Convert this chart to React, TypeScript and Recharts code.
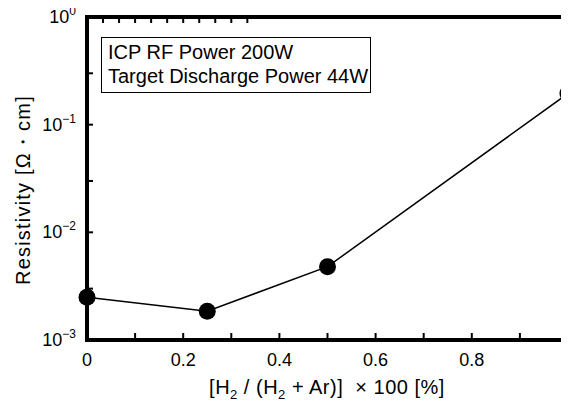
import { Line, LineChart, XAxis, YAxis } from "recharts";

// H2 ratio [%] and measured resistivity [Ω·cm]
const h2Ratio = [0, 0.25, 0.5, 1.0];
const resistivity = [0.0025, 0.00185, 0.0048, 0.195];

const xTicks = [0, 0.1, 0.2, 0.3, 0.4, 0.5, 0.6, 0.7, 0.8, 0.9, 1.0];
const yTicks = [0.001, 0.003, 0.01, 0.03, 0.1, 0.3, 1];
const legendLines = ["ICP RF Power 200W", "Target Discharge Power 44W"];

const data = h2Ratio.map((x, i) => ({ x, r: resistivity[i] }));

const FONT = "'Liberation Sans', Arial, sans-serif";
const axisLine = { stroke: "#000", strokeWidth: 4, strokeLinecap: "square" as const };

const isMajorX = (v: number) => Math.round(v * 10) % 2 === 0;
const isMajorY = (v: number) => Math.abs(Math.log10(v) - Math.round(Math.log10(v))) < 1e-6;

function BottomTick({ x, y, payload }: any) {
  const v = payload.value as number;
  const major = isMajorX(v);
  const label = v === 0 ? "0" : v === 1 ? "1" : v.toFixed(1);
  return (
    <g>
      <line x1={x} x2={x} y1={y} y2={y - 7} stroke="#000" strokeWidth={2} />
      {major && (
        <text x={x} y={y + 26} textAnchor="middle" fontSize={18} fontFamily={FONT} fill="#000">
          {label}
        </text>
      )}
    </g>
  );
}

function TopTick({ x, y }: any) {
  return <line x1={x} x2={x} y1={y} y2={y + 6} stroke="#000" strokeWidth={2} />;
}

function LeftTick({ x, y, payload }: any) {
  const v = payload.value as number;
  const exp = Math.round(Math.log10(v));
  return (
    <g>
      <line x1={x} x2={x + 6} y1={y} y2={y} stroke="#000" strokeWidth={2} />
      {isMajorY(v) && (
        <text x={x - 11} y={y + 6} textAnchor="end" fontSize={18} fontFamily={FONT} fill="#000">
          10
          <tspan dy={-8} fontSize={12}>
            {exp < 0 ? `\u2212${-exp}` : `${exp}`}
          </tspan>
        </text>
      )}
    </g>
  );
}

function RightTick({ x, y }: any) {
  return <line x1={x} x2={x - 6} y1={y} y2={y} stroke="#000" strokeWidth={2} />;
}

export default function App() {
  return (
    <div style={{ position: "relative", width: 569, height: 412, margin: -8, background: "#fff", fontFamily: FONT }}>
      <LineChart width={569} height={412} data={data} margin={{ top: 0, right: 0, bottom: 0, left: 0 }}>
        <XAxis
          dataKey="x"
          type="number"
          domain={[0, 1]}
          ticks={xTicks}
          interval={0}
          height={72}
          tickSize={0}
          tickMargin={0}
          tickLine={false}
          axisLine={axisLine}
          tick={<BottomTick />}
          label={{
            content: () => (
              <text
                x={327}
                y={394}
                textAnchor="middle"
                fontSize={20}
                letterSpacing={0.5}
                fontFamily={FONT}
                fill="#000"
                style={{ whiteSpace: "pre" }}
              >
                [H
                <tspan dy={5} fontSize={13}>2</tspan>
                <tspan dy={-5}> / (H</tspan>
                <tspan dy={5} fontSize={13}>2</tspan>
                <tspan dy={-5}>{" + Ar)]  × 100 [%]"}</tspan>
              </text>
            ),
          }}
        />
        <XAxis
          xAxisId="top"
          orientation="top"
          type="number"
          domain={[0, 1]}
          ticks={xTicks}
          interval={0}
          height={17}
          tickSize={0}
          tickMargin={0}
          tickLine={false}
          axisLine={axisLine}
          tick={<TopTick />}
        />
        <YAxis
          type="number"
          scale="log"
          domain={[0.001, 1]}
          ticks={yTicks}
          interval={0}
          allowDataOverflow
          width={87}
          tickSize={0}
          tickMargin={0}
          tickLine={false}
          axisLine={axisLine}
          tick={<LeftTick />}
          label={{
            content: () => (
              <text
                x={30}
                y={190}
                transform="rotate(-90 30 190)"
                textAnchor="middle"
                fontSize={20}
                letterSpacing={1.2}
                fontFamily={FONT}
                fill="#000"
              >
                Resistivity [Ω・cm]
              </text>
            ),
          }}
        />
        <YAxis
          yAxisId="right"
          orientation="right"
          type="number"
          scale="log"
          domain={[0.001, 1]}
          ticks={yTicks}
          interval={0}
          allowDataOverflow
          width={1}
          tickSize={0}
          tickMargin={0}
          tickLine={false}
          axisLine={false}
          tick={<RightTick />}
        />
        <Line
          dataKey="r"
          type="linear"
          stroke="#000"
          strokeWidth={1.5}
          dot={{ r: 8.5, fill: "#000", stroke: "#000", strokeWidth: 0 }}
          isAnimationActive={false}
        />
      </LineChart>
      <div
        style={{
          position: "absolute",
          left: 101,
          top: 37,
          width: 262,
          height: 52,
          border: "1.5px solid #000",
          paddingLeft: 6,
          paddingTop: 2,
          boxSizing: "content-box",
          fontSize: 20,
          lineHeight: "24px",
          color: "#000",
          whiteSpace: "nowrap",
        }}
      >
        {legendLines.map((t) => (
          <div key={t}>{t}</div>
        ))}
      </div>
    </div>
  );
}
